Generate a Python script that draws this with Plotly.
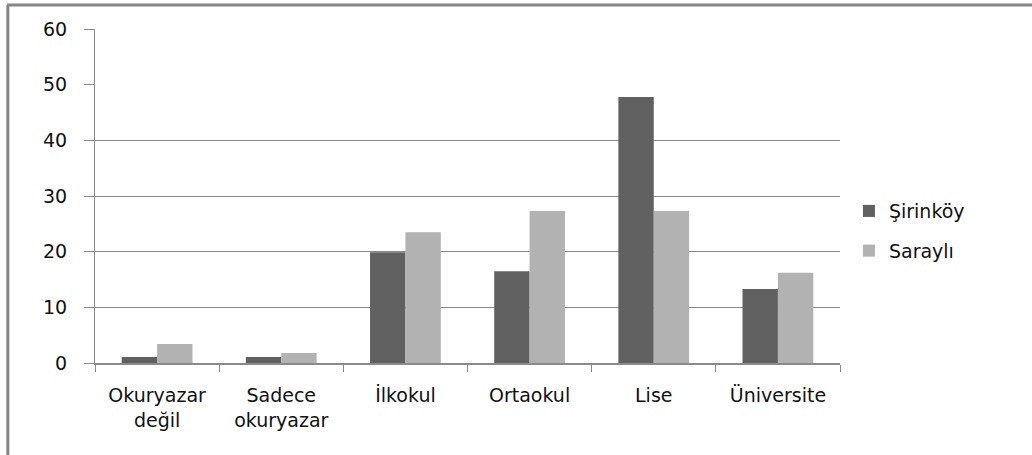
import plotly.graph_objects as go

categories = ["Okuryazar<br>değil", "Sadece<br>okuryazar", "İlkokul", "Ortaokul", "Lise", "Üniversite"]
sirinkoy = [1.1, 1.1, 19.9, 16.5, 47.8, 13.3]
sarayli = [3.4, 1.8, 23.5, 27.3, 27.3, 16.2]
y_ticks = [0, 10, 20, 30, 40, 50, 60]
grid_ticks = [10, 20, 30, 40, 60]  # the 50 line is missing in the original

FONT = "DejaVu Sans"
GRID = "#8a8a8a"

fig = go.Figure()
fig.add_trace(go.Bar(name="Şirinköy", x=categories, y=sirinkoy, marker_color="#606060",
                     marker_line_width=0, legendgroup="a"))
fig.add_trace(go.Bar(name="Saraylı", x=categories, y=sarayli, marker_color="#b2b2b2",
                     marker_line_width=0, legendgroup="b"))

# invisible helper trace so the grid axis gets drawn
fig.add_trace(go.Scatter(x=categories, y=[None] * len(categories), yaxis="y2",
                         showlegend=False, hoverinfo="skip"))

fig.update_layout(
    width=1032,
    height=455,
    margin=dict(l=95, r=192, t=29, b=92),
    paper_bgcolor="white",
    plot_bgcolor="white",
    barmode="group",
    bargap=0.43,
    bargroupgap=0,
    font=dict(family=FONT, size=19, color="#111111"),
    xaxis=dict(
        tickson="boundaries",
        ticks="outside",
        ticklen=7,
        tickcolor=GRID,
        tickwidth=1,
        showline=True,
        linecolor=GRID,
        linewidth=2,
        showgrid=False,
        ticklabelstandoff=14,
    ),
    yaxis=dict(
        range=[0, 60],
        tickvals=y_ticks,
        ticks="outside",
        ticklen=10,
        tickcolor=GRID,
        showline=True,
        linecolor=GRID,
        linewidth=1,
        showgrid=False,
        zeroline=False,
        ticklabelstandoff=13,
    ),
    yaxis2=dict(
        range=[0, 60],
        overlaying="y",
        tickvals=grid_ticks,
        showticklabels=False,
        showgrid=True,
        gridcolor=GRID,
        gridwidth=1,
        zeroline=False,
        layer="below traces",
    ),
    legend=dict(
        x=1.012,
        xanchor="left",
        y=0.395,
        yanchor="middle",
        traceorder="grouped",
        tracegroupgap=12,
        itemwidth=30,
        bgcolor="rgba(0,0,0,0)",
    ),
    shapes=[
        dict(type="line", xref="paper", yref="paper", x0=-0.118, x1=1.3, y0=1.072, y1=1.072,
             line=dict(color="#868686", width=3)),
        dict(type="line", xref="paper", yref="paper", x0=-0.117, x1=-0.117, y0=1.072, y1=-0.3,
             line=dict(color="#868686", width=3)),
    ],
)

fig.write_html("out.html", config={"displayModeBar": False},
               post_script="document.body.style.margin='0';")
